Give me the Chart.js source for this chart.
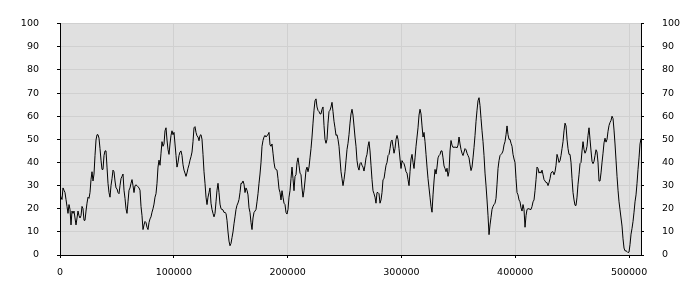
<!DOCTYPE html>
<html><head><meta charset="utf-8">
<script src="https://cdn.jsdelivr.net/npm/chart.js@4/dist/chart.umd.min.js"></script>
<style>html,body{margin:0;padding:0;background:#fff}#wrap{width:700px;height:300px}</style>
</head><body><div id="wrap"><canvas id="c" width="700" height="300"></canvas></div>
<script>
// Sample interval of the series along the x axis, and the axis extent
const X_STEP = 878.7;
const X_MIN = 0;
const X_MAX = 510500;
const X_TICKS = [0, 100000, 200000, 300000, 400000, 500000];
const Y_TICKS = [0, 10, 20, 30, 40, 50, 60, 70, 80, 90, 100];

// Series values, one per sample
const values = [
26,25,24,29,28,27,24,21,18,21.8,
19.7,13,19,18,19,16,13,16,19,17,
16,17,21,20,15,15,19,22.4,25,24.5,
27,32.6,36,32,35,43,49.7,52,52,50.5,
46,41,37,37,43,45,45,38,31,27,
25,30,33,36.7,36,32,29,28.6,27,26.5,
30,33,34,35,28,24.5,20,18,23,28,
29,31,32.6,30,27,30,30.3,30,29.5,29,
28,21,17,11,13,14.5,14,12,11,14,
15.6,16.5,18.5,20,22,25,26.5,31,38,41,
38.8,44,49,47,48,53.7,55,49.7,45.6,43.5,
48,51.7,53.7,52,53,48,43,38,40,43,
44.5,45,43,39,36.7,35.4,34,35.5,37.5,39,
41,42.5,44.5,49,55,55.5,53,51.5,51,49.4,
51.7,52,50,43.5,36,31,25,21.8,25,27,
29,22.4,19.7,18,16.5,18,23,28,31,27,
22,20,19.7,19.5,18.4,18.4,18,15,10,6,
4,5,7.5,10,13.5,16.5,19.7,21.5,22.5,24,
27,31,31,32,30.6,27,29,28,26,20.4,
18.4,14,11,16,18.4,19,19.7,23,26.5,31,
35,40,47,49.5,51,51.7,51,51.7,52,53,
47.6,47,48,44,40,37.4,37,36.7,33,28.6,
27,23.8,27.8,25,22.4,21.8,18.4,17.7,19.7,25,
27.8,33,38,33,27.8,34,34.7,40,42,38.8,
35.4,34.7,29,25,27.8,32,36.7,38,36,38,
42,46,51,57,62.6,66.7,67.5,64,62.5,62,
61,61,63,64,56,50,48.3,50,57,62,
62.6,64,66,62,57.8,55,51.7,52,50,47,
41.5,36,33,30,32.6,36,40.8,45.6,48.3,52,
57,61,63,60.5,55.8,51,47,40.8,38,36.7,
39.5,40,38.8,38,36.3,38.8,42,43.5,47,49,
45,38.8,32.6,27.8,26.5,25,22.4,27,27,26.5,
22.4,23.8,27,32.6,33,36,38.8,40,43,43.5,
46,49,49.7,47,44,46,50,51.7,50,46,
41.5,37.4,40.8,40,39.5,38,36,35.4,32.6,30,
36,41.5,43.5,40,37.4,42,47,51,55,60.5,
63,61,55.8,51,53,49,43.5,38,33,29,
25,21,18.5,26,32,37,35,38,42,43,
43.5,45,45,42,38.5,37.4,36,37.5,34,36,
45,49.5,47.5,46.5,46.7,46.5,46.7,46.3,47.5,51,
48,45.6,44,43,44.5,46,45.5,44,43,42,
39,36.5,38,42,46.5,51.7,57.8,62.6,66.7,68,
64.6,59,53.7,49,43,35.4,30,23.8,17,8.8,
13,16.3,19.7,21,21.8,22.4,24.5,30.6,37.4,40.8,
43,43.5,44,45,47.6,49,52,55.8,52,50,
50,48.3,47,43.5,41.5,40,33,27,26,23.8,
23,20.4,19,21.8,19.7,12,17,19.7,20,20,
19.7,19.7,21,23,23.8,27.8,32.6,38,37.4,35.4,
36,35.4,36.7,34.7,32.6,32,31.3,31.3,30,31.3,
33,35.4,36,36,34.7,36,38.8,43.5,42,40,
40.8,43,46,49,53.7,57,55.8,50,46,43.5,
43.5,40,33,27,23.8,21.5,21.4,25,30.6,34.7,
39.5,40,45,49,45.6,44,45,47,51.7,55,
50,45,40.5,39.5,40.5,43,45.5,44.5,40,32,
32,35.5,40,44,48.5,50.5,48.8,50,53.5,56,
57.3,58.2,60,59,54,48,41,34,28,23,
19.5,16,12.5,7,3,1.8,1.8,1.5,1,1.3,
4.5,9,11.5,14.5,18.5,23,26,31,37,42,
48,50.3
];

const points = values.map((v, i) => ({ x: i * X_STEP, y: v }));

const FONT = { family: "'DejaVu Sans', Verdana, sans-serif", size: 9.5 };

const plotBg = {
  id: 'plotBg',
  beforeDraw(chart) {
    const { ctx, chartArea: a } = chart;
    ctx.save();
    ctx.fillStyle = '#e0e0e0';
    ctx.fillRect(a.left, a.top, a.right - a.left, a.bottom - a.top);
    ctx.restore();
  }
};

function yAxis(position, width, onArea) {
  return {
    type: 'linear',
    position,
    min: Y_TICKS[0],
    max: Y_TICKS[Y_TICKS.length - 1],
    afterFit(s) { s.width = width; },
    afterBuildTicks(s) { s.ticks = Y_TICKS.map(v => ({ value: v })); },
    ticks: { color: '#000', font: FONT, padding: 18, callback: v => String(v) },
    grid: { drawOnChartArea: onArea, color: '#d0d0d0', tickColor: '#000', tickLength: 3, lineWidth: 1 },
    border: { display: true, color: '#000', width: 1 }
  };
}

new Chart(document.getElementById('c'), {
  type: 'line',
  data: {
    datasets: [{
      data: points,
      borderColor: '#000',
      borderWidth: 1,
      pointRadius: 0,
      tension: 0,
      fill: false,
      yAxisID: 'y'
    }]
  },
  options: {
    responsive: false,
    devicePixelRatio: 1,
    animation: false,
    layout: { padding: { top: 10, left: 0, right: 0, bottom: 0 } },
    plugins: { legend: { display: false }, tooltip: { enabled: false } },
    scales: {
      x: {
        type: 'linear',
        position: 'bottom',
        min: X_MIN,
        max: X_MAX,
        afterFit(s) { s.height = 45; },
        afterBuildTicks(s) { s.ticks = X_TICKS.map(v => ({ value: v })); },
        ticks: { color: '#000', font: FONT, padding: 9, maxRotation: 0, autoSkip: false, callback: v => String(v) },
        grid: { color: '#d0d0d0', tickColor: '#000', tickLength: 3, lineWidth: 1 },
        border: { display: true, color: '#000', width: 1 }
      },
      y: yAxis('left', 60, true),
      y2: yAxis('right', 59, false)
    }
  },
  plugins: [plotBg]
});
</script>
</body></html>
